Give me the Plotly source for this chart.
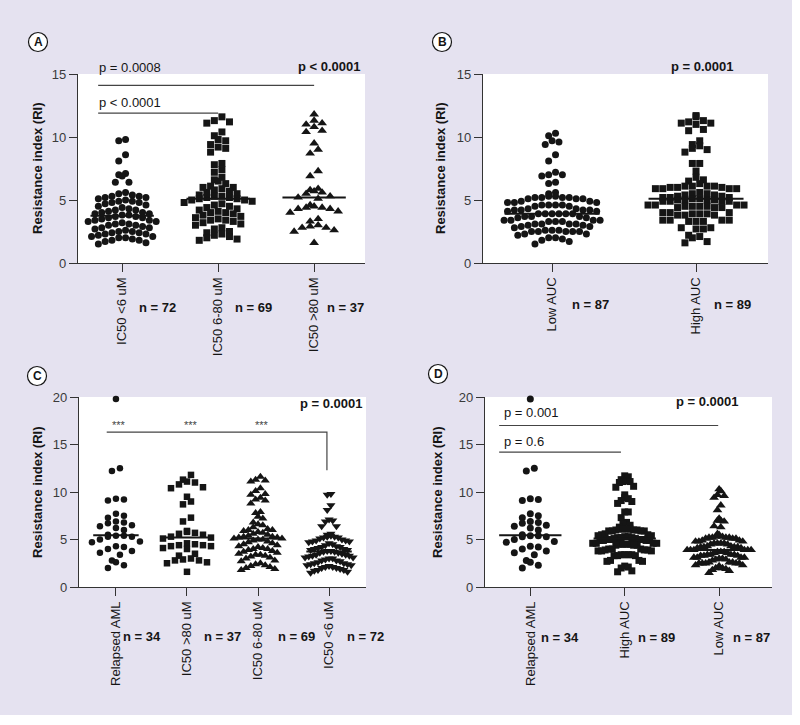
import numpy as np
import plotly.graph_objects as go

W, H = 800, 725

# ---------------- data (resistance index per patient group) ----------------
ic50_lt6 = [9.8, 9.7, 8.6, 8.1, 7.1, 7.0, 6.9, 6.4, 6.4,
            5.6, 5.5, 5.4, 5.3, 5.3, 5.2, 5.2, 5.1, 5.0, 4.9,
            4.9, 4.8, 4.8, 4.7, 4.6, 4.5, 4.4, 4.3, 4.2, 4.2,
            4.1, 4.0, 4.0, 3.9, 3.9, 3.8, 3.8, 3.7, 3.7, 3.6,
            3.6, 3.5, 3.4, 3.4, 3.3, 3.3, 3.2, 3.1, 3.1, 3.0,
            3.0, 2.9, 2.8, 2.8, 2.7, 2.6, 2.5, 2.5, 2.4, 2.4,
            2.3, 2.3, 2.2, 2.1, 2.1, 2.0, 2.0, 1.9, 1.8, 1.8,
            1.7, 1.6, 1.5]
ic50_6_80 = [11.6, 11.3, 11.2, 11.1, 10.4, 10.1, 9.8, 9.7, 9.4, 9.2,
             9.1, 8.8, 7.9, 7.8, 7.4, 7.2, 6.8, 6.6, 6.5, 6.3,
             6.1, 6.0, 6.0, 5.9, 5.8, 5.7, 5.6, 5.5, 5.4, 5.3,
             5.3, 5.2, 5.2, 5.1, 5.1, 5.0, 5.0, 4.9, 4.8, 4.7,
             4.6, 4.5, 4.4, 4.3, 4.2, 4.1, 4.0, 4.0, 3.9, 3.8,
             3.7, 3.6, 3.5, 3.4, 3.4, 3.3, 3.2, 3.1, 3.0, 2.8,
             2.7, 2.5, 2.4, 2.3, 2.2, 2.1, 2.0, 1.9, 1.8]
ic50_gt80 = [11.8, 11.3, 11.1, 11.0, 10.8, 10.5, 10.4, 9.5, 9.0, 8.7,
             7.3, 6.9, 5.9, 5.8, 5.7, 5.6, 5.5, 5.3, 5.2, 5.1,
             4.6, 4.5, 4.4, 4.4, 4.3, 4.3, 4.1, 4.0, 3.5, 3.3,
             3.0, 2.9, 2.8, 2.8, 2.6, 2.5, 1.6]
low_auc = [10.3, 10.1, 9.7, 9.6, 9.4, 8.6, 8.1, 7.2, 7.0, 7.0, 6.9, 6.4, 6.3,
           5.6, 5.5,
           5.3, 5.3, 5.2, 5.2, 5.2, 5.1, 5.1, 5.1, 5.2,
           4.9, 4.8, 4.8, 4.9, 4.8,
           4.6, 4.6, 4.5, 4.6, 4.5, 4.6,
           4.3, 4.2, 4.2, 4.1, 4.3, 4.2, 4.1, 4.2,
           3.9, 3.9, 3.9, 3.9, 3.9, 3.9,
           3.7, 3.7, 3.6, 3.7, 3.6,
           3.4, 3.4, 3.3, 3.4, 3.3, 3.4, 3.3,
           3.1, 3.1, 3.0, 3.1, 3.1, 3.0,
           2.9, 2.8, 2.9,
           2.6, 2.5, 2.5, 2.6, 2.5, 2.5, 2.6, 2.5,
           2.3, 2.2, 2.3,
           2.0, 2.0, 1.9,
           1.8, 1.7,
           1.5]
high_auc = [11.7, 11.6, 11.3, 11.2, 11.1, 11.1, 11.0, 10.6, 10.5, 9.7,
            9.4, 9.3, 9.1, 9.0, 8.8, 7.9, 7.9, 7.3, 6.8,
            6.6, 6.5, 6.3,
            6.1, 6.1, 6.1, 6.1, 6.0, 6.0, 6.0, 5.9, 5.9, 5.9, 5.9,
            5.6, 5.5, 5.5, 5.4, 5.4, 5.3, 5.3, 5.2, 5.2, 5.2, 5.1, 5.1,
            5.0, 5.0, 5.0, 5.0, 4.9, 4.9, 4.9, 4.9,
            4.6, 4.6, 4.6, 4.6, 4.5, 4.5, 4.5, 4.5, 4.4, 4.4, 4.4,
            4.0, 4.0, 4.0, 3.9, 3.9, 3.9, 3.8, 3.8, 3.8,
            3.4, 3.4, 3.4, 3.4, 3.3, 3.3, 3.3,
            2.8, 2.8, 2.7, 2.7,
            2.2, 2.1, 2.0,
            1.7, 1.6]
relapsed_aml = [19.8, 12.5, 12.2, 9.3, 9.2, 9.1, 7.7, 7.5, 7.3, 6.9,
                6.8, 6.7, 6.5, 6.4, 6.2, 6.0, 5.5, 5.4, 5.4, 5.3,
                5.3, 5.0, 4.8, 4.7, 4.3, 4.2, 4.0, 3.8, 3.6, 3.4,
                2.8, 2.6, 2.3, 2.0]

lab_lt6, lab_6_80, lab_gt80 = "IC50 <6 uM", "IC50 6-80 uM", "IC50 >80 uM"
lab_low, lab_high, lab_rel = "Low AUC", "High AUC", "Relapsed AML"
y_title = "Resistance index (RI)"

FONT = "Liberation Sans, Arial, sans-serif"
INK = "#151515"
AX = "#333333"


def px(x):
    return x / W


def py(y):
    return 1 - y / H


def swarm(vals, ppu_y, ppu_x, row_px=7.0, dx_px=8.0, max_half=34.0):
    v = np.asarray(vals, float)
    order = np.argsort(v, kind="stable")
    rows, cur, start = [], [order[0]], v[order[0]]
    for idx in order[1:]:
        if (v[idx] - start) * ppu_y < row_px:
            cur.append(idx)
        else:
            rows.append(cur)
            cur, start = [idx], v[idx]
    rows.append(cur)
    maxn = max(len(r) for r in rows)
    dx = dx_px
    if maxn > 1 and (maxn - 1) * dx / 2 > max_half:
        dx = 2 * max_half / (maxn - 1)
    off = np.zeros(len(v))
    for r in rows:
        n = len(r)
        seq = []
        lo, hi = 0, n - 1
        t = 0
        while lo <= hi:
            if t % 2 == 0:
                seq.append(lo); lo += 1
            else:
                seq.append(hi); hi -= 1
            t += 1
        for idx, s in zip(r, seq):
            off[idx] = (s - (n - 1) / 2) * dx
    return off / ppu_x


panels = [
    dict(xa="x", ya="y", xdom=(78, 365), ydom=(74, 263), xr=(-0.46, 2.53), yr=(0, 15),
         ytv=[0, 5, 10, 15], half=34, msize=7, medw=0.33,
         groups=[(lab_lt6, ic50_lt6, "circle", 15), (lab_6_80, ic50_6_80, "square", 15),
                 (lab_gt80, ic50_gt80, "triangle-up", 11)], ny=307),
    dict(xa="x2", ya="y2", xdom=(483, 768), ydom=(74, 263), xr=(-0.48, 1.5), yr=(0, 15),
         ytv=[0, 5, 10, 15], half=48, msize=7, medw=0.33,
         groups=[(lab_low, low_auc, "circle", 18), (lab_high, high_auc, "square", 16)], ny=305),
    dict(xa="x3", ya="y3", xdom=(79, 366), ydom=(397, 587), xr=(-0.52, 3.52), yr=(0, 20),
         ytv=[0, 5, 10, 15, 20], half=24, msize=6.5, medw=0.32,
         groups=[(lab_rel, relapsed_aml, "circle", 5), (lab_gt80, ic50_gt80, "square", 15),
                 (lab_6_80, ic50_6_80, "triangle-up", 18), (lab_lt6, ic50_lt6, "triangle-down", 16)],
         ny=636),
    dict(xa="x4", ya="y4", xdom=(485, 772), ydom=(397, 587), xr=(-0.48, 2.56), yr=(0, 20),
         ytv=[0, 5, 10, 15, 20], half=32, msize=7, medw=0.33,
         groups=[(lab_rel, relapsed_aml, "circle", 9), (lab_high, high_auc, "square", 11),
                 (lab_low, low_auc, "triangle-up", 12)], ny=637),
]

fig = go.Figure()
layout = dict(
    width=W, height=H, margin=dict(l=0, r=0, t=0, b=0, pad=0, autoexpand=False),
    autosize=False,
    paper_bgcolor="#E5E2F0", plot_bgcolor="white", showlegend=False,
    font=dict(family=FONT, size=13, color=INK),
)
annotations, shapes = [], []

for i, p in enumerate(panels):
    ppu_y = (p["ydom"][1] - p["ydom"][0]) / (p["yr"][1] - p["yr"][0])
    ppu_x = (p["xdom"][1] - p["xdom"][0]) / (p["xr"][1] - p["xr"][0])
    for c, (lab, vals, sym, nshift) in enumerate(p["groups"]):
        off = swarm(vals, ppu_y, ppu_x, max_half=p["half"])
        size = p["msize"] + (1.5 if sym.startswith("triangle") else 0)
        fig.add_trace(go.Scatter(
            x=c + off, y=vals, mode="markers", xaxis=p["xa"], yaxis=p["ya"],
            marker=dict(symbol=sym, size=size, color=INK, line=dict(width=0)),
            cliponaxis=False, hoverinfo="skip"))
        med = float(np.median(vals))
        fig.add_trace(go.Scatter(
            x=[c - p["medw"], c + p["medw"]], y=[med, med], mode="lines",
            xaxis=p["xa"], yaxis=p["ya"], line=dict(color=INK, width=2),
            cliponaxis=False, hoverinfo="skip"))
        annotations.append(dict(
            text="<b>n = %d</b>" % len(vals), xref=p["xa"], yref="paper",
            x=c, y=py(p["ny"]), xanchor="left", yanchor="middle", xshift=nshift,
            showarrow=False, font=dict(size=13, color=INK)))
    sfx = "" if i == 0 else str(i + 1)
    layout["xaxis" + sfx] = dict(
        domain=[px(p["xdom"][0]), px(p["xdom"][1])], range=list(p["xr"]),
        anchor=p["ya"], tickmode="array", tickvals=list(range(len(p["groups"]))),
        ticktext=[g[0] for g in p["groups"]], tickangle=-90, ticks="outside",
        ticklen=8, tickcolor=AX, showline=True, linecolor=AX, linewidth=1.2,
        showgrid=False, zeroline=False, fixedrange=True, automargin=False,
        tickfont=dict(size=13, color=INK, family=FONT))
    layout["yaxis" + sfx] = dict(
        domain=[py(p["ydom"][1]), py(p["ydom"][0])], range=list(p["yr"]),
        anchor=p["xa"], tickmode="array", tickvals=p["ytv"], ticks="outside",
        ticklen=8, tickcolor=AX, showline=True, linecolor=AX, linewidth=1.2,
        showgrid=False, zeroline=False, fixedrange=True, automargin=False,
        tickfont=dict(size=13, color="#3a3a3a", family=FONT))

# y-axis titles
for xp, yc in [(37, 168), (440, 168), (37, 492), (437, 492)]:
    annotations.append(dict(text="<b>%s</b>" % y_title, xref="paper", yref="paper",
                            x=px(xp), y=py(yc), textangle=-90, showarrow=False,
                            xanchor="center", yanchor="middle", font=dict(size=13, color=INK)))

# panel letters
for letter, cx, cy in [("A", 38, 42), ("B", 442, 42), ("C", 37, 376), ("D", 438, 374)]:
    r = 9.5
    shapes.append(dict(type="circle", xref="paper", yref="paper",
                       x0=px(cx - r), x1=px(cx + r), y0=py(cy + r), y1=py(cy - r),
                       line=dict(color=INK, width=1.2), fillcolor="white"))
    annotations.append(dict(text="<b>%s</b>" % letter, xref="paper", yref="paper",
                            x=px(cx), y=py(cy), showarrow=False, xanchor="center",
                            yanchor="middle", font=dict(size=12, color=INK)))

# white strips at right and bottom edge
shapes.append(dict(type="rect", xref="paper", yref="paper", x0=px(792), x1=1, y0=0, y1=1,
                   fillcolor="white", line=dict(width=0), layer="below"))
shapes.append(dict(type="rect", xref="paper", yref="paper", x0=0, x1=1, y0=0, y1=py(715),
                   fillcolor="white", line=dict(width=0), layer="below"))


def txt(s, x, y, anchor="left", bold=False, size=13):
    annotations.append(dict(text="<b>%s</b>" % s if bold else s, xref="paper", yref="paper",
                            x=px(x), y=py(y), xanchor=anchor, yanchor="middle",
                            showarrow=False, font=dict(size=size, color=INK)))


def hline(xa, ya, x0, x1, y):
    shapes.append(dict(type="line", xref=xa, yref=ya, x0=x0, x1=x1, y0=y, y1=y,
                       line=dict(color="#444444", width=1.2)))


# Panel A
txt("p = 0.0008", 97, 67)
txt("p < 0.0001", 363, 66, anchor="right", bold=True)
txt("p < 0.0001", 97, 102)
hline("x", "y", -0.25, 2.0, 14.1)
hline("x", "y", -0.25, 1.0, 11.9)
# Panel B
txt("p = 0.0001", 702, 66, anchor="center", bold=True)
# Panel C
txt("p = 0.0001", 365, 404, anchor="right", bold=True)
for c in range(3):
    annotations.append(dict(text="***", xref="x3", yref="y3", x=c + 0.05, y=17.1,
                            showarrow=False, xanchor="center", yanchor="middle",
                            font=dict(size=11, color="#444444")))
shapes.append(dict(type="path", xref="x3", yref="y3",
                   path="M -0.13,16.3 L 2.97,16.3 L 2.97,12.3",
                   line=dict(color="#444444", width=1.2)))
# Panel D
txt("p = 0.001", 502, 412)
txt("p = 0.6", 502, 441)
txt("p = 0.0001", 707, 401, anchor="center", bold=True)
hline("x4", "y4", -0.33, 1.99, 17.0)
hline("x4", "y4", -0.33, 0.96, 14.2)

layout["annotations"] = annotations
layout["shapes"] = shapes
fig.update_layout(**layout)
fig.write_html(
    "out.html",
    config={"displayModeBar": False, "responsive": False, "staticPlot": True},
    post_script=("document.documentElement.style.margin='0px';"
                 "document.body.style.margin='0px';document.body.style.padding='0px';"
                 "document.body.style.overflow='hidden';window.scrollTo(0,0);"),
)
